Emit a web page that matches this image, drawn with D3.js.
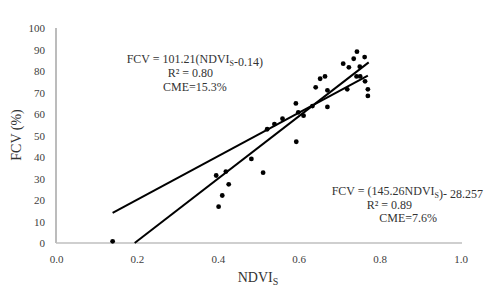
<!DOCTYPE html>
<html><head><meta charset="utf-8">
<script src="https://cdn.jsdelivr.net/npm/d3@7"></script>
<style>body{margin:0;background:#fff}svg{display:block}text{font-family:"Liberation Serif","Times New Roman",serif}</style>
</head><body><svg id="c" width="500" height="292"></svg>
<script>
const ndvi = [0.140,0.396,0.402,0.411,0.420,0.427,0.483,0.512,0.522,0.540,0.560,0.593,0.594,0.599,0.612,0.634,0.642,0.653,0.665,0.671,0.671,0.710,0.720,0.724,0.736,0.744,0.751,0.743,0.752,0.763,0.764,0.771,0.771];
const fcv  = [0.8,31.4,16.9,22.1,33.2,27.3,39.1,32.7,52.9,55.3,57.8,64.9,47.1,60.8,59.2,63.7,72.4,76.4,77.5,71.0,63.3,83.4,71.5,81.7,85.7,89.0,82.0,77.5,77.5,86.5,75.2,71.5,68.4];
const fit1X = [0.14, 0.771], fit1Y = [14.03, 77.9];
const fit2X = [0.1945, 0.773], fit2Y = [0, 84.03];
const xTicks = [0,0.2,0.4,0.6,0.8,1.0];
const yTicks = [0,10,20,30,40,50,60,70,80,90,100];

const svg = d3.select("#c");
const x = d3.scaleLinear().domain([0,1]).range([56,460.5]);
const y = d3.scaleLinear().domain([0,100]).range([243,28]);

// axes lines
svg.append("line").attr("x1",x(0)).attr("x2",x(0)).attr("y1",y(0)).attr("y2",y(100)).attr("stroke","#a6a6a6").attr("stroke-width",1.5);
svg.append("line").attr("x1",x(0)).attr("x2",x(1)+1.5).attr("y1",y(0)).attr("y2",y(0)).attr("stroke","#bfbfbf").attr("stroke-width",1.5);

const xa = svg.append("g").attr("transform",`translate(0,${y(0)})`)
  .call(d3.axisBottom(x).tickValues(xTicks).tickFormat(d3.format(".1f")).tickSize(0).tickPadding(12));
const ya = svg.append("g").attr("transform",`translate(${x(0)},0)`)
  .call(d3.axisLeft(y).tickValues(yTicks).tickSize(0).tickPadding(11));
[xa,ya].forEach(g=>{g.select(".domain").remove();g.selectAll("text").attr("font-size",11).attr("fill","#404040").attr("font-family","Liberation Serif");});

// fit lines
const line = d3.line().x(d=>x(d[0])).y(d=>y(d[1]));
svg.append("path").attr("d",line(d3.zip(fit1X,fit1Y))).attr("stroke","#000").attr("stroke-width",2).attr("fill","none");
svg.append("path").attr("d",line(d3.zip(fit2X,fit2Y))).attr("stroke","#000").attr("stroke-width",2).attr("fill","none");

// points
svg.append("g").selectAll("circle").data(d3.zip(ndvi,fcv)).join("circle")
  .attr("cx",d=>x(d[0])).attr("cy",d=>y(d[1])).attr("r",2.4).attr("fill","#000");

// annotations
function eq(xp,yp,parts){
  const t = svg.append("text").attr("x",xp).attr("y",yp).attr("font-size",12).attr("fill","#333");
  parts.forEach(p=>{
    if(p.sub){ t.append("tspan").attr("font-size",8).attr("dy",3).text(p.sub); t.append("tspan").attr("dy",-3).text(""); }
    else t.append("tspan").text(p.t);
  });
  return t;
}
eq(126.7,62.5,[{t:"FCV = 101.21(NDVI"},{sub:"S"},{t:"-0.14)"}]);
eq(167.7,76.5,[{t:"R² = 0.80"}]);
eq(163,90.5,[{t:"CME=15.3%"}]);
eq(331.7,195,[{t:"FCV = (145.26NDVI"},{sub:"S"},{t:")- 28.257"}]);
eq(366.7,209,[{t:"R² = 0.89"}]);
eq(379.3,222,[{t:"CME=7.6%"}]);

// axis titles
const xt = svg.append("text").attr("x",258).attr("y",282).attr("text-anchor","middle").attr("font-size",14).attr("fill","#333");
xt.append("tspan").text("NDVI");
xt.append("tspan").attr("font-size",10).attr("dy",3).text("S");
svg.append("text").attr("transform","translate(21,135) rotate(-90)").attr("text-anchor","middle").attr("font-size",14).attr("fill","#333").text("FCV (%)");
</script></body></html>
